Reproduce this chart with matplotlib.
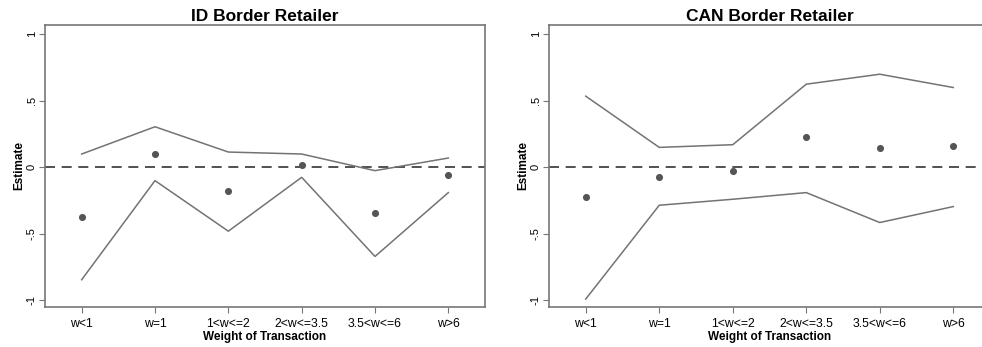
import numpy as np
import matplotlib
matplotlib.use("Agg")
import matplotlib.pyplot as plt

plt.rcParams.update({
    "font.family": ["Liberation Sans", "DejaVu Sans"],
    "font.size": 8,
})

## Catégories de poids
CATEGORIES = ["w<1", "w=1", "1<w<=2", "2<w<=3.5", "3.5<w<=6", "w>6"]

## ID Border Retailer
ID_ESTIMATE = [-0.37, 0.10, -0.18, 0.02, -0.34, -0.055]
ID_UPPER = [0.10, 0.305, 0.115, 0.10, -0.025, 0.07]
ID_LOWER = [-0.845, -0.10, -0.48, -0.075, -0.67, -0.19]

## CAN Border Retailer
CAN_ESTIMATE = [-0.22, -0.07, -0.03, 0.225, 0.145, 0.16]
CAN_UPPER = [0.535, 0.15, 0.17, 0.625, 0.70, 0.60]
CAN_LOWER = [-0.99, -0.285, -0.24, -0.19, -0.415, -0.295]

YTICKS = [-1, -0.5, 0, 0.5, 1]
YTICKLABELS = ["-1", "-.5", "0", ".5", "1"]

LINE_COLOR = "#737373"
POINT_COLOR = "#555555"
SPINE_COLOR = "#777777"


def draw_panel(ax, titre, estimate, upper, lower):
    x = np.arange(1, len(CATEGORIES) + 1)
    ax.axhline(0, color="#333333", linestyle=(0, (6, 4)), linewidth=1.2, zorder=1)
    ax.plot(x, upper, color=LINE_COLOR, linewidth=1.1, zorder=2)
    ax.plot(x, lower, color=LINE_COLOR, linewidth=1.1, zorder=2)
    ax.scatter(x, estimate, s=26, color=POINT_COLOR, zorder=3, linewidths=0)

    ax.set_xlim(0.5, 6.5)
    ax.set_ylim(-1.05, 1.07)
    ax.set_xticks(x)
    ax.set_xticklabels(CATEGORIES)
    ax.set_yticks(YTICKS)
    ax.set_yticklabels(YTICKLABELS, rotation=90, va="center")

    ax.tick_params(axis="both", length=4, width=0.8, color=SPINE_COLOR)
    ax.tick_params(axis="x", labelsize=8.8, pad=4)
    ax.tick_params(axis="y", labelsize=8, pad=2)
    for sp in ax.spines.values():
        sp.set_color(SPINE_COLOR)
        sp.set_linewidth(1.2)

    ax.set_title(titre, fontsize=12.5, fontweight="bold", pad=3)
    ax.set_xlabel("Weight of Transaction", fontsize=8.5, fontweight="bold", labelpad=0.5)
    ax.set_ylabel("Estimate", fontsize=8.5, fontweight="bold", labelpad=1)


fig = plt.figure(figsize=(9.82, 3.47), dpi=100)
ax1 = fig.add_axes([45 / 982, 1 - 307 / 347, 440 / 982, 282 / 347])
ax2 = fig.add_axes([549 / 982, 1 - 307 / 347, 441 / 982, 282 / 347])

draw_panel(ax1, "ID Border Retailer", ID_ESTIMATE, ID_UPPER, ID_LOWER)
draw_panel(ax2, "CAN Border Retailer", CAN_ESTIMATE, CAN_UPPER, CAN_LOWER)

fig.savefig("out.png", dpi=100)
